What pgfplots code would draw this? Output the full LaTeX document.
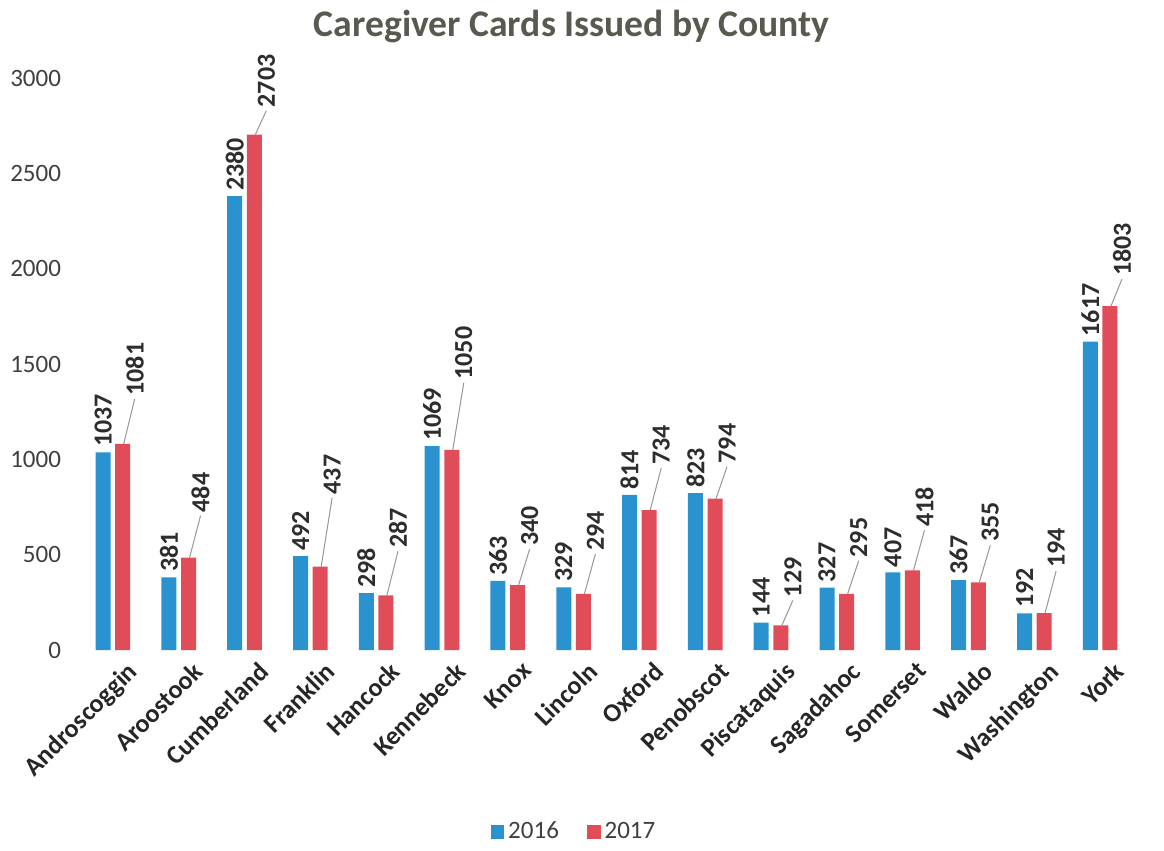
\documentclass[border=0pt]{standalone}
\usepackage{fontspec}
\setmainfont{Carlito}
\usepackage{pgfplots}
\usepackage{pgfplotstable}
\pgfplotsset{compat=1.18}
\definecolor{cblue}{RGB}{41,146,207}
\definecolor{cred}{RGB}{224,76,88}
\definecolor{ctitle}{RGB}{88,90,80}
\definecolor{ctick}{RGB}{64,64,64}
\definecolor{clab}{RGB}{45,45,45}
\pgfplotstableread{
x y16 y17 off
0 1037 1081 22.5
1 381 484 21
2 2380 2703 12
3 492 437 34.5
4 298 287 22
5 1069 1050 33.5
6 363 340 18
7 329 294 20
8 814 734 21
9 823 794 16
10 144 129 12.5
11 327 295 16.5
12 407 418 20
13 367 355 18.5
14 192 194 21
15 1617 1803 13.5
}\data
\begin{document}
\begin{tikzpicture}
\begin{axis}[
  name=ax,
  scale only axis,
  width=526.5pt, height=286pt,
  xmin=-0.5, xmax=15.5,
  ymin=0, ymax=3000,
  ytick={0,500,1000,1500,2000,2500,3000},
  xtick=data,
  xticklabels={Androscoggin,Aroostook,Cumberland,Franklin,Hancock,Kennebeck,Knox,Lincoln,Oxford,Penobscot,Piscataquis,Sagadahoc,Somerset,Waldo,Washington,York},
  xticklabel style={rotate=45, anchor=north east, font=\bfseries\fontsize{13}{15}\selectfont, text=black!85, xshift=5pt, yshift=-4pt, inner sep=1pt},
  yticklabel style={font=\fontsize{12.5}{14}\selectfont, text=ctick, xshift=-6pt},
  /pgf/number format/assume math mode=true,
  /pgf/number format/1000 sep={},
  axis line style={draw=none},
  tick style={draw=none},
  ybar, bar width=7.5pt,
  clip=false,
  title={Caregiver Cards Issued by County},
  title style={at={(axis description cs:0.467,1)}, anchor=center, yshift=20pt, font=\bfseries\fontsize{18.8}{22}\selectfont, text=ctitle},
  legend style={at={(axis description cs:0.47,-0.318)}, anchor=center, draw=none, legend columns=2, font=\fontsize{12.5}{14}\selectfont, text=ctick, /tikz/every even column/.append style={column sep=12pt}},
  legend image code/.code={\draw[#1, draw=none] (0cm,-0.12cm) rectangle (0.24cm,0.12cm);},
  nodes near coords,
  every node near coord/.append style={font=\bfseries\fontsize{13}{15}\selectfont, text=clab, inner sep=1.5pt},
]
\addplot[fill=cblue, draw=none, bar shift=-4.9pt,
  nodes near coords style={shift={(0pt,1pt)}, rotate=90, anchor=west}]
  table[x=x, y=y16] {\data};
\addplot[fill=cred, draw=none, bar shift=4.9pt,
  visualization depends on={\thisrow{off} \as \off},
  nodes near coords style={shift={(6pt,\off pt)}, rotate=90, anchor=west,
    append after command={(\tikzlastnode.west) edge[draw=gray!80, line width=0.5pt] ++(-5.5pt,-\off pt)}}]
  table[x=x, y=y17] {\data};
\legend{2016,2017}
\end{axis}
\path ([xshift=-40pt,yshift=-100pt]ax.south west) rectangle ([xshift=15.5pt,yshift=39pt]ax.north east);
\end{tikzpicture}
\end{document}
